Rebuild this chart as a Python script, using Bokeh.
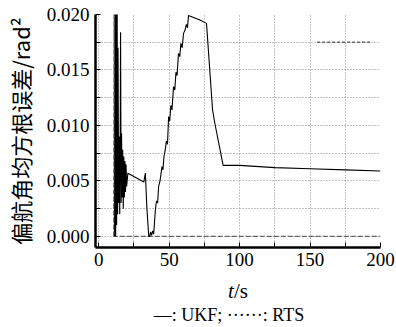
from bokeh.plotting import figure
from bokeh.models import Range1d, PrintfTickFormatter, FixedTicker, Div
from bokeh.layouts import column
from bokeh.embed import file_html
from bokeh.resources import INLINE

# UKF yaw-angle RMS error
t_ukf = [11.3, 11.7, 12.0, 12.3, 12.7, 13.0, 13.4, 13.7, 14.1, 14.5, 14.9, 15.2, 15.5, 15.9,
         16.2, 16.6, 17.0, 17.4, 17.8, 18.2, 18.6, 19.0, 19.4, 19.8, 20.7, 32.0, 33.1, 34.2,
         35.5, 36.2, 36.8, 37.5, 38.3, 39.0, 40.2, 41.0, 41.8, 42.5, 43.5, 44.9, 45.6, 46.3,
         47.2, 48.0, 48.8, 49.6, 50.4, 51.2, 52.0, 53.1, 54.0, 54.8, 55.6, 56.6, 57.5, 58.3,
         59.2, 60.2, 61.3, 62.2, 63.0, 63.7, 71.8, 76.5, 80.8, 82.4, 88.3, 100.0, 125.0,
         150.0, 175.0, 200.0]
e_ukf = [0.0000, 0.0250, 0.0000, 0.0250, 0.0010, 0.0250, 0.0020, 0.0170, 0.0030, 0.0090,
         0.0020, 0.0080, 0.0184, 0.0030, 0.0093, 0.0035, 0.0078, 0.0025, 0.0072, 0.0035,
         0.0068, 0.0040, 0.0065, 0.0045, 0.0057, 0.0049, 0.0057, 0.0025, 0.0000, 0.0000,
         0.0004, 0.0001, 0.0005, 0.0002, 0.0024, 0.0032, 0.0030, 0.0045, 0.0050, 0.0063,
         0.0060, 0.0072, 0.0078, 0.0086, 0.0083, 0.0108, 0.0104, 0.0118, 0.0114, 0.0135,
         0.0132, 0.0148, 0.0145, 0.0165, 0.0162, 0.0174, 0.0170, 0.0183, 0.0186, 0.0191,
         0.0188, 0.0199, 0.0195, 0.0192, 0.0114, 0.0102, 0.0064, 0.0064, 0.0062, 0.0061,
         0.0060, 0.0059]

# RTS yaw-angle RMS error
t_rts = [10.6, 10.9, 11.2, 200.0]
e_rts = [0.0000, 0.0250, 0.0000, 0.0000]

# dotted legend-style segment at upper right
t_seg = [155.0, 194.0]
e_seg = [0.0175, 0.0175]

x_ticks = [0, 50, 100, 150, 200]
x_minor = [25, 75, 125, 175]
y_ticks = [0.000, 0.005, 0.010, 0.015, 0.020]
y_minor = [0.0025, 0.0075, 0.0125, 0.0175]

x_label_html = "<i>t</i>/s"
legend_html = "&mdash;: UKF; &middot;&middot;&middot;&middot;&middot;&middot;: RTS"

SERIF = "Liberation Serif"

p = figure(width=396, height=275, output_backend="svg", toolbar_location=None,
           x_range=Range1d(-2.3, 200), y_range=Range1d(-0.001, 0.020),
           min_border_left=93, min_border_right=16, min_border_top=14, min_border_bottom=28)
p.outline_line_color = None
p.background_fill_color = "white"

for ax in (p.xaxis[0], p.yaxis[0]):
    ax.axis_line_width = 2.5
    ax.axis_line_color = "black"
    ax.major_tick_in = 5
    ax.major_tick_out = 0
    ax.minor_tick_in = 5
    ax.minor_tick_out = 0
    ax.major_tick_line_color = "black"
    ax.minor_tick_line_color = "black"
    ax.major_label_text_font = SERIF
    ax.major_label_text_font_size = "19px"
    ax.major_label_text_color = "black"

p.xaxis.ticker = FixedTicker(ticks=x_ticks, minor_ticks=x_minor)
p.yaxis.ticker = FixedTicker(ticks=y_ticks, minor_ticks=y_minor)
p.yaxis.formatter = PrintfTickFormatter(format="%.3f")
p.xaxis.major_label_standoff = 5
p.yaxis.major_label_standoff = 6

p.yaxis.axis_label = "偏航角均方根误差/rad²"
p.yaxis.axis_label_text_font = "Noto Sans CJK SC"
p.yaxis.axis_label_text_font_size = "22px"
p.yaxis.axis_label_text_font_style = "normal"
p.yaxis.axis_label_text_color = "black"
p.yaxis.axis_label_standoff = 8

for g in (p.xgrid[0], p.ygrid[0]):
    g.grid_line_color = "#888888"
    g.grid_line_dash = "1 2"
    g.grid_line_width = 1
    g.minor_grid_line_color = "#888888"
    g.minor_grid_line_dash = "1 2"
    g.minor_grid_line_width = 1

p.line(t_rts, e_rts, line_color="#666666", line_width=1.2, line_dash="5 2")
p.line(t_seg, e_seg, line_color="#666666", line_width=1.3, line_dash="3 2")
p.line(t_ukf, e_ukf, line_color="black", line_width=1.1)

div = Div(width=396, height=52, margin=0, text=(
    '<div style="position:relative;width:396px;height:52px;font-family:Liberation Serif,serif;color:black">'
    '<div style="position:absolute;left:238px;top:4px;transform:translateX(-50%);white-space:nowrap;'
    'font-size:21px;line-height:24px">' + x_label_html + '</div>'
    '<div style="position:absolute;left:229px;top:30px;transform:translateX(-50%);white-space:nowrap;'
    'font-size:18px;line-height:20px">' + legend_html + '</div>'
    '</div>'))

layout = column(p, div, spacing=0)
open("out.html", "w").write(file_html(layout, INLINE))
